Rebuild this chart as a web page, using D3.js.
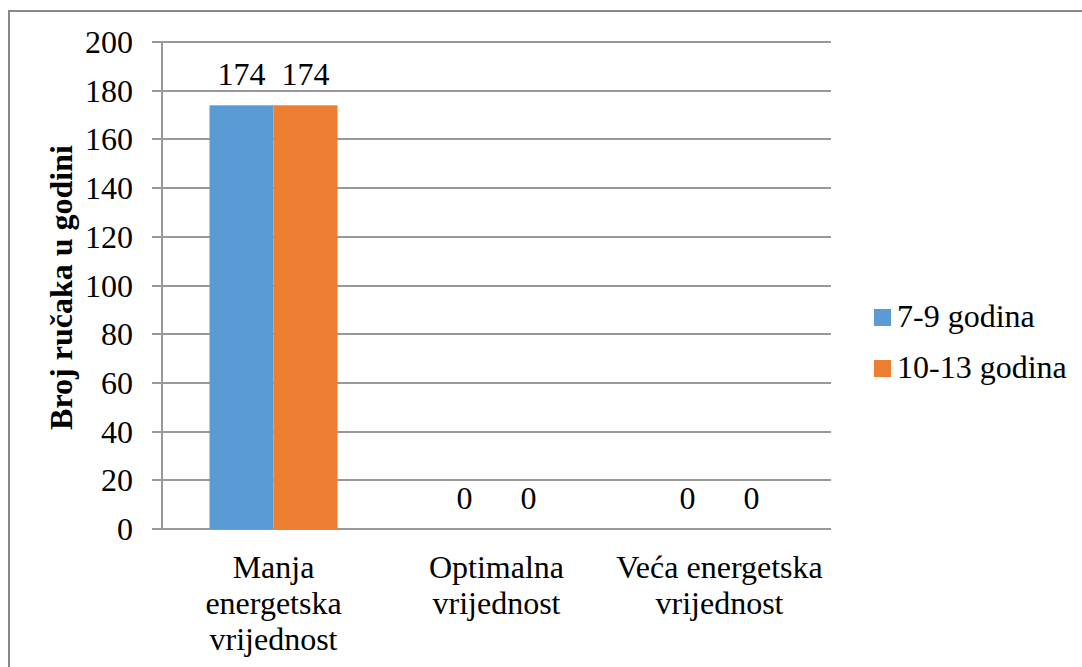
<!DOCTYPE html>
<html>
<head>
<meta charset="utf-8">
<script src="https://cdn.jsdelivr.net/npm/d3@7"></script>
<style>
  body { margin: 0; background: #fff; }
  svg { display: block; }
  svg text { font-family: "Liberation Serif", "DejaVu Serif", serif; fill: #000; }
</style>
</head>
<body>
<div id="chart"></div>
<script>
var categories = [["Manja", "energetska", "vrijednost"], ["Optimalna", "vrijednost"], ["Veća energetska", "vrijednost"]];
var seriesNames = ["7-9 godina", "10-13 godina"];
var seriesColors = ["#5b9bd5", "#ed7d31"];
var values79 = [174, 0, 0];
var values1013 = [174, 0, 0];
var yTicks = [0, 20, 40, 60, 80, 100, 120, 140, 160, 180, 200];

var width = 1082, height = 667;
var plotLeft = 162, plotRight = 831, plotTop = 42, plotBottom = 529;
var fs = 32;

var svg = d3.select("#chart").append("svg")
    .attr("width", width)
    .attr("height", height);

// outer frame (only top and left edges are visible)
svg.append("path")
    .attr("d", "M9,667 V11 H1082")
    .attr("fill", "none")
    .attr("stroke", "#888")
    .attr("stroke-width", 2);

var x0 = d3.scaleBand().domain(d3.range(categories.length)).range([plotLeft, plotRight]);
var x1 = d3.scaleBand().domain(d3.range(seriesNames.length))
    .range([0, 128]);
var y = d3.scaleLinear().domain([0, 200]).range([plotBottom, plotTop]);

//gridlines
svg.selectAll(".grid")
    .data(yTicks)
    .enter().append("line")
    .attr("x1", plotLeft - 10)
    .attr("x2", plotRight)
    .attr("y1", d => Math.round(y(d)))
    .attr("y2", d => Math.round(y(d)))
    .attr("stroke", "#999")
    .attr("stroke-width", 2);

svg.append("line")
    .attr("x1", plotLeft).attr("x2", plotLeft)
    .attr("y1", plotTop).attr("y2", plotBottom)
    .attr("stroke", "#999")
    .attr("stroke-width", 2);

//y tick labels
svg.selectAll(".ytick")
    .data(yTicks)
    .enter().append("text")
    .attr("x", 133)
    .attr("y", d => y(d) + 11)
    .attr("text-anchor", "end")
    .attr("font-size", fs)
    .text(d => d);

svg.append("text")
    .attr("transform", "translate(72," + ((plotTop + plotBottom) / 2 + 2) + ") rotate(-90)")
    .attr("text-anchor", "middle")
    .attr("font-size", fs)
    .attr("font-weight", "bold")
    .text("Broj ručaka u godini");

var series = [values79, values1013];
var groups = svg.selectAll(".grp")
    .data(categories)
    .enter().append("g")
    .attr("transform", (d, i) => "translate(" + (x0(i) + x0.bandwidth() / 2 - 64) + ",0)");

series.forEach(function(vals, s) {
    groups.append("rect")
        .attr("x", x1(s))
        .attr("width", x1.bandwidth())
        .attr("y", (d, i) => y(vals[i]))
        .attr("height", (d, i) => y(0) - y(vals[i]))
        .attr("fill", seriesColors[s]);
    groups.append("text")
        .attr("x", x1(s) + x1.bandwidth() / 2)
        .attr("y", (d, i) => y(vals[i]) - 20)
        .attr("text-anchor", "middle")
        .attr("font-size", fs)
        .text((d, i) => vals[i]);
});

//category labels
groups.each(function(lines) {
    var t = d3.select(this).append("text")
        .attr("x", 64)
        .attr("y", 578)
        .attr("text-anchor", "middle")
        .attr("font-size", fs);
    lines.forEach(function(l, k) {
        t.append("tspan").attr("x", 64).attr("dy", k === 0 ? 0 : 36).text(l);
    });
});

//legend
var legend = svg.selectAll(".leg")
    .data(seriesNames)
    .enter().append("g")
    .attr("transform", (d, i) => "translate(874," + (309 + i * 51) + ")");
legend.append("rect")
    .attr("width", 17).attr("height", 17)
    .attr("fill", (d, i) => seriesColors[i]);
legend.append("text")
    .attr("x", 23).attr("y", 18)
    .attr("font-size", fs)
    .text(d => d);
</script>
</body>
</html>
